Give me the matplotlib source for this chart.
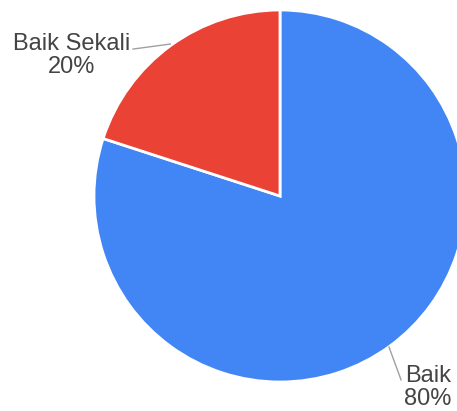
import matplotlib.pyplot as plt

# Data
labels = ['Baik', 'Baik Sekali']
values = [80, 20]
colors = ['#4285F4', '#EA4335']

fig = plt.figure(figsize=(4.57, 4.11), dpi=100)
# axes placed so the pie centre sits at about (280, 196) px with radius 186 px
ax = fig.add_axes([94 / 457, (411 - 196 - 186) / 411, 372 / 457, 372 / 411])

wedges, _ = ax.pie(values, colors=colors, startangle=90, counterclock=False,
                   radius=1, wedgeprops=dict(edgecolor='white', linewidth=2))
ax.set_xlim(-1, 1)
ax.set_ylim(-1, 1)
ax.set_aspect('equal')
ax.axis('off')

pct = [f"{v / sum(values) * 100:.0f}%" for v in values]

# Label for Baik Sekali (upper left)
ax.plot([-0.79, -0.59], [0.79, 0.817], color='#a0a0a0', lw=1, clip_on=False)
ax.text(-1.121, 0.755, f"{labels[1]}\n{pct[1]}", ha='center', va='center',
        fontsize=17, color='#444444', linespacing=1.1, family='Liberation Sans')

# Label for Baik (lower right)
ax.plot([0.586, 0.651], [-0.812, -0.989], color='#a0a0a0', lw=1, clip_on=False)
ax.text(0.796, -1.03, f"{labels[0]}\n{pct[0]}", ha='center', va='center',
        fontsize=17, color='#444444', linespacing=1.1, family='Liberation Sans')

fig.savefig('out.png', dpi=100)
